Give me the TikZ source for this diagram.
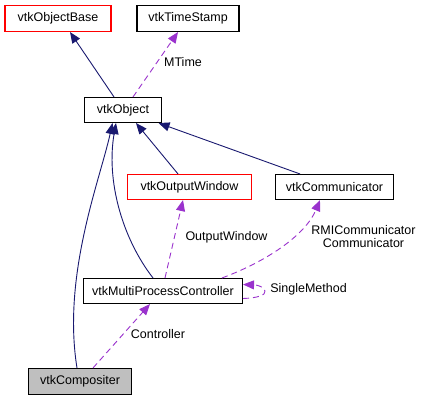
\documentclass[tikz,border=0pt]{standalone}
\usepackage{fontspec}
\setmainfont{Liberation Sans}
\usetikzlibrary{arrows.meta}
\definecolor{navyedge}{HTML}{191970}
\definecolor{purpedge}{HTML}{9A32CD}
\definecolor{grayfill}{HTML}{BFBFBF}
\definecolor{redframe}{HTML}{FF0000}
\tikzset{
  cls/.style={draw=black, line width=1.1pt, fill=white, inner sep=0pt, minimum height=25pt, font=\fontsize{12.5}{14}\selectfont},
  redcls/.style={cls, draw=redframe},
  inherit/.style={navyedge, line width=0.9pt, -{Triangle[length=11pt,width=9pt]}},
  uses/.style={purpedge, line width=0.9pt, dash pattern=on 6pt off 4pt, -{Triangle[length=11pt,width=9pt]}},
  lbl/.style={inner sep=0pt, font=\fontsize{12.5}{13.5}\selectfont, align=center}
}
\begin{document}
\begin{tikzpicture}[x=1pt,y=-1pt]
\fill[white] (0,0) rectangle (423,400);
\useasboundingbox (0,0) rectangle (423,400);
\node[redcls, minimum width=106pt, minimum height=26pt] (base) at (58,18.5) {vtkObjectBase};
\node[cls, minimum width=102pt, minimum height=26pt] (ts) at (188,18.5) {vtkTimeStamp};
\node[cls, minimum width=77pt] (obj) at (123,110) {vtkObject};
\node[redcls, minimum width=124pt] (ow) at (189.5,187) {vtkOutputWindow};
\node[cls, minimum width=118pt] (comm) at (334.5,187) {vtkCommunicator};
\node[cls, minimum width=159pt] (mpc) at (163,291) {vtkMultiProcessController};
\node[cls, fill=grayfill, minimum width=103pt, minimum height=26pt] (comp) at (80,381.5) {vtkCompositer};

% inheritance
\draw[inherit] ([xshift=-9pt]obj.north) -- ([xshift=12pt]base.south);
\draw[inherit] ([xshift=-11.5pt]ow.north) -- ([xshift=13pt]obj.south);
\draw[inherit] ([xshift=-34.5pt]comm.north) -- ([xshift=-3.5pt]obj.south east);
\draw[inherit] ([xshift=-10pt]mpc.north) .. controls (122,238) and (106,180) .. ([xshift=-7pt]obj.south);
\draw[inherit] ([xshift=-3pt]comp.north) .. controls (62,275) and (100,180) .. ([xshift=-10.5pt]obj.south);

% usage
\draw[uses] ([xshift=10pt]obj.north) -- ([xshift=-10pt]ts.south);
\node[lbl] (lmtime) at (183,62) {MTime};
\draw[uses] ([xshift=2pt]mpc.north) -- ([xshift=-6.5pt]ow.south);
\node[lbl] (low) at (226.5,237) {OutputWindow};
\draw[uses] ([xshift=59pt]mpc.north) .. controls (265,262) and (305,236) .. ([xshift=-14.5pt]comm.south);
\node[lbl] (lcomm) at (363.5,236.5) {RMICommunicator\\Communicator};
\draw[uses] ([yshift=-7.5pt]mpc.east) .. controls (258,298) and (266,295) .. (265,291) .. controls (264,287) and (258,285) .. ([yshift=6.5pt]mpc.east);
\node[lbl] (lsm) at (308.5,289) {SingleMethod};
\draw[uses] ([xshift=13pt]comp.north) -- ([xshift=-13pt]mpc.south);
\node[lbl] (lctrl) at (158,334) {Controller};
\end{tikzpicture}
\end{document}
